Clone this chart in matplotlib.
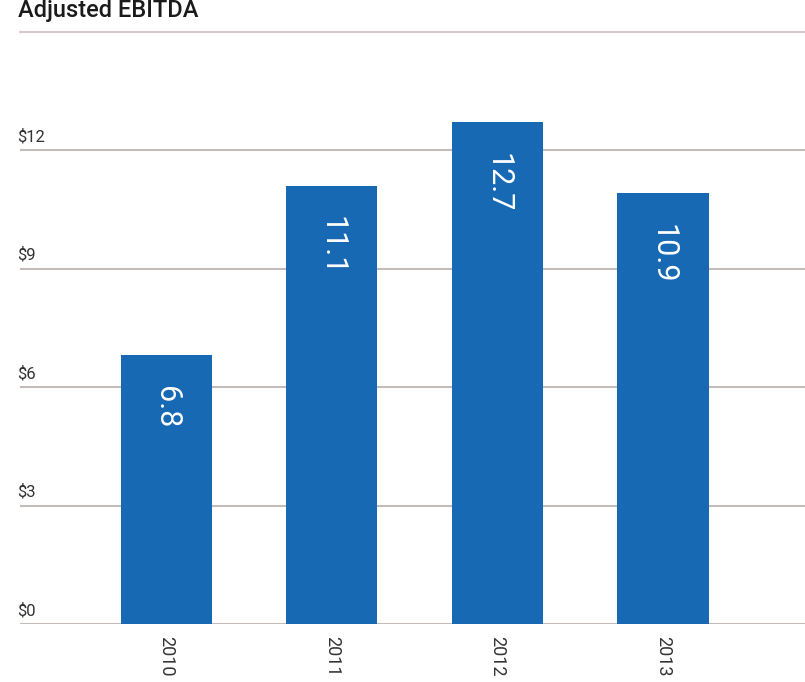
import matplotlib
matplotlib.use("Agg")
import matplotlib.pyplot as plt

years = ["2010", "2011", "2012", "2013"]
ebitda = [6.8, 11.1, 12.7, 10.9]
tick_values = [0, 3, 6, 9, 12]
tick_labels = ["$0", "$3", "$6", "$9", "$12"]

W, H = 805, 682
fig = plt.figure(figsize=(W / 100, H / 100), dpi=100)
fig.patch.set_facecolor("white")

# axes spanning from x=20px to the right edge, bottom at the $0 line
ax_left = 20 / W
ax_bottom = (H - 624) / H
ax_top = (H - 80) / H
ax = fig.add_axes([ax_left, ax_bottom, 1 - ax_left, ax_top - ax_bottom])
px_per_unit = 474 / 12
ax.set_ylim(0, (624 - 80) / px_per_unit)
ax.set_xlim(-0.885, 3.858)

for s in ax.spines.values():
    s.set_visible(False)
ax.set_xticks([])
ax.set_yticks([])

grid_color = "#c4bcb8"
for v in tick_values:
    ax.axhline(v, color=grid_color, lw=1.5, zorder=1)

xs = list(range(len(years)))
bars = ax.bar(xs, ebitda, width=0.55, color="#1869b4", zorder=2)

# y tick labels sit just above each grid line, at the left edge
for v, lab in zip(tick_values, tick_labels):
    ax.annotate(lab, xy=(0, v), xycoords=("axes fraction", "data"),
                xytext=(-2, 4), textcoords="offset points",
                ha="left", va="bottom", fontsize=12, color="#333333",
                family="Roboto")

# values written vertically inside each bar
for x, v in zip(xs, ebitda):
    ax.annotate(f"{v}", xy=(x, v), xytext=(0, -22), textcoords="offset points",
                rotation=-90, ha="center", va="top", fontsize=22,
                color="white", family="Roboto", fontweight="normal", zorder=3)

# year labels below the baseline
for x, y in zip(xs, years):
    ax.annotate(y, xy=(x, 0), xytext=(0, -9), textcoords="offset points",
                rotation=-90, ha="center", va="top", fontsize=13,
                color="#333333", family="Roboto")

# title and separator rule
fig.text(18 / W, 1 - 17 / H, "Adjusted EBITDA", ha="left", va="baseline",
         fontsize=17, fontweight="medium", color="#1a1a1a", family="Roboto")
fig.add_artist(plt.Line2D([20 / W, 1], [1 - 32 / H, 1 - 32 / H],
                          color="#cdbcbc", lw=1.2))

fig.savefig("out.png", dpi=100, facecolor="white")
